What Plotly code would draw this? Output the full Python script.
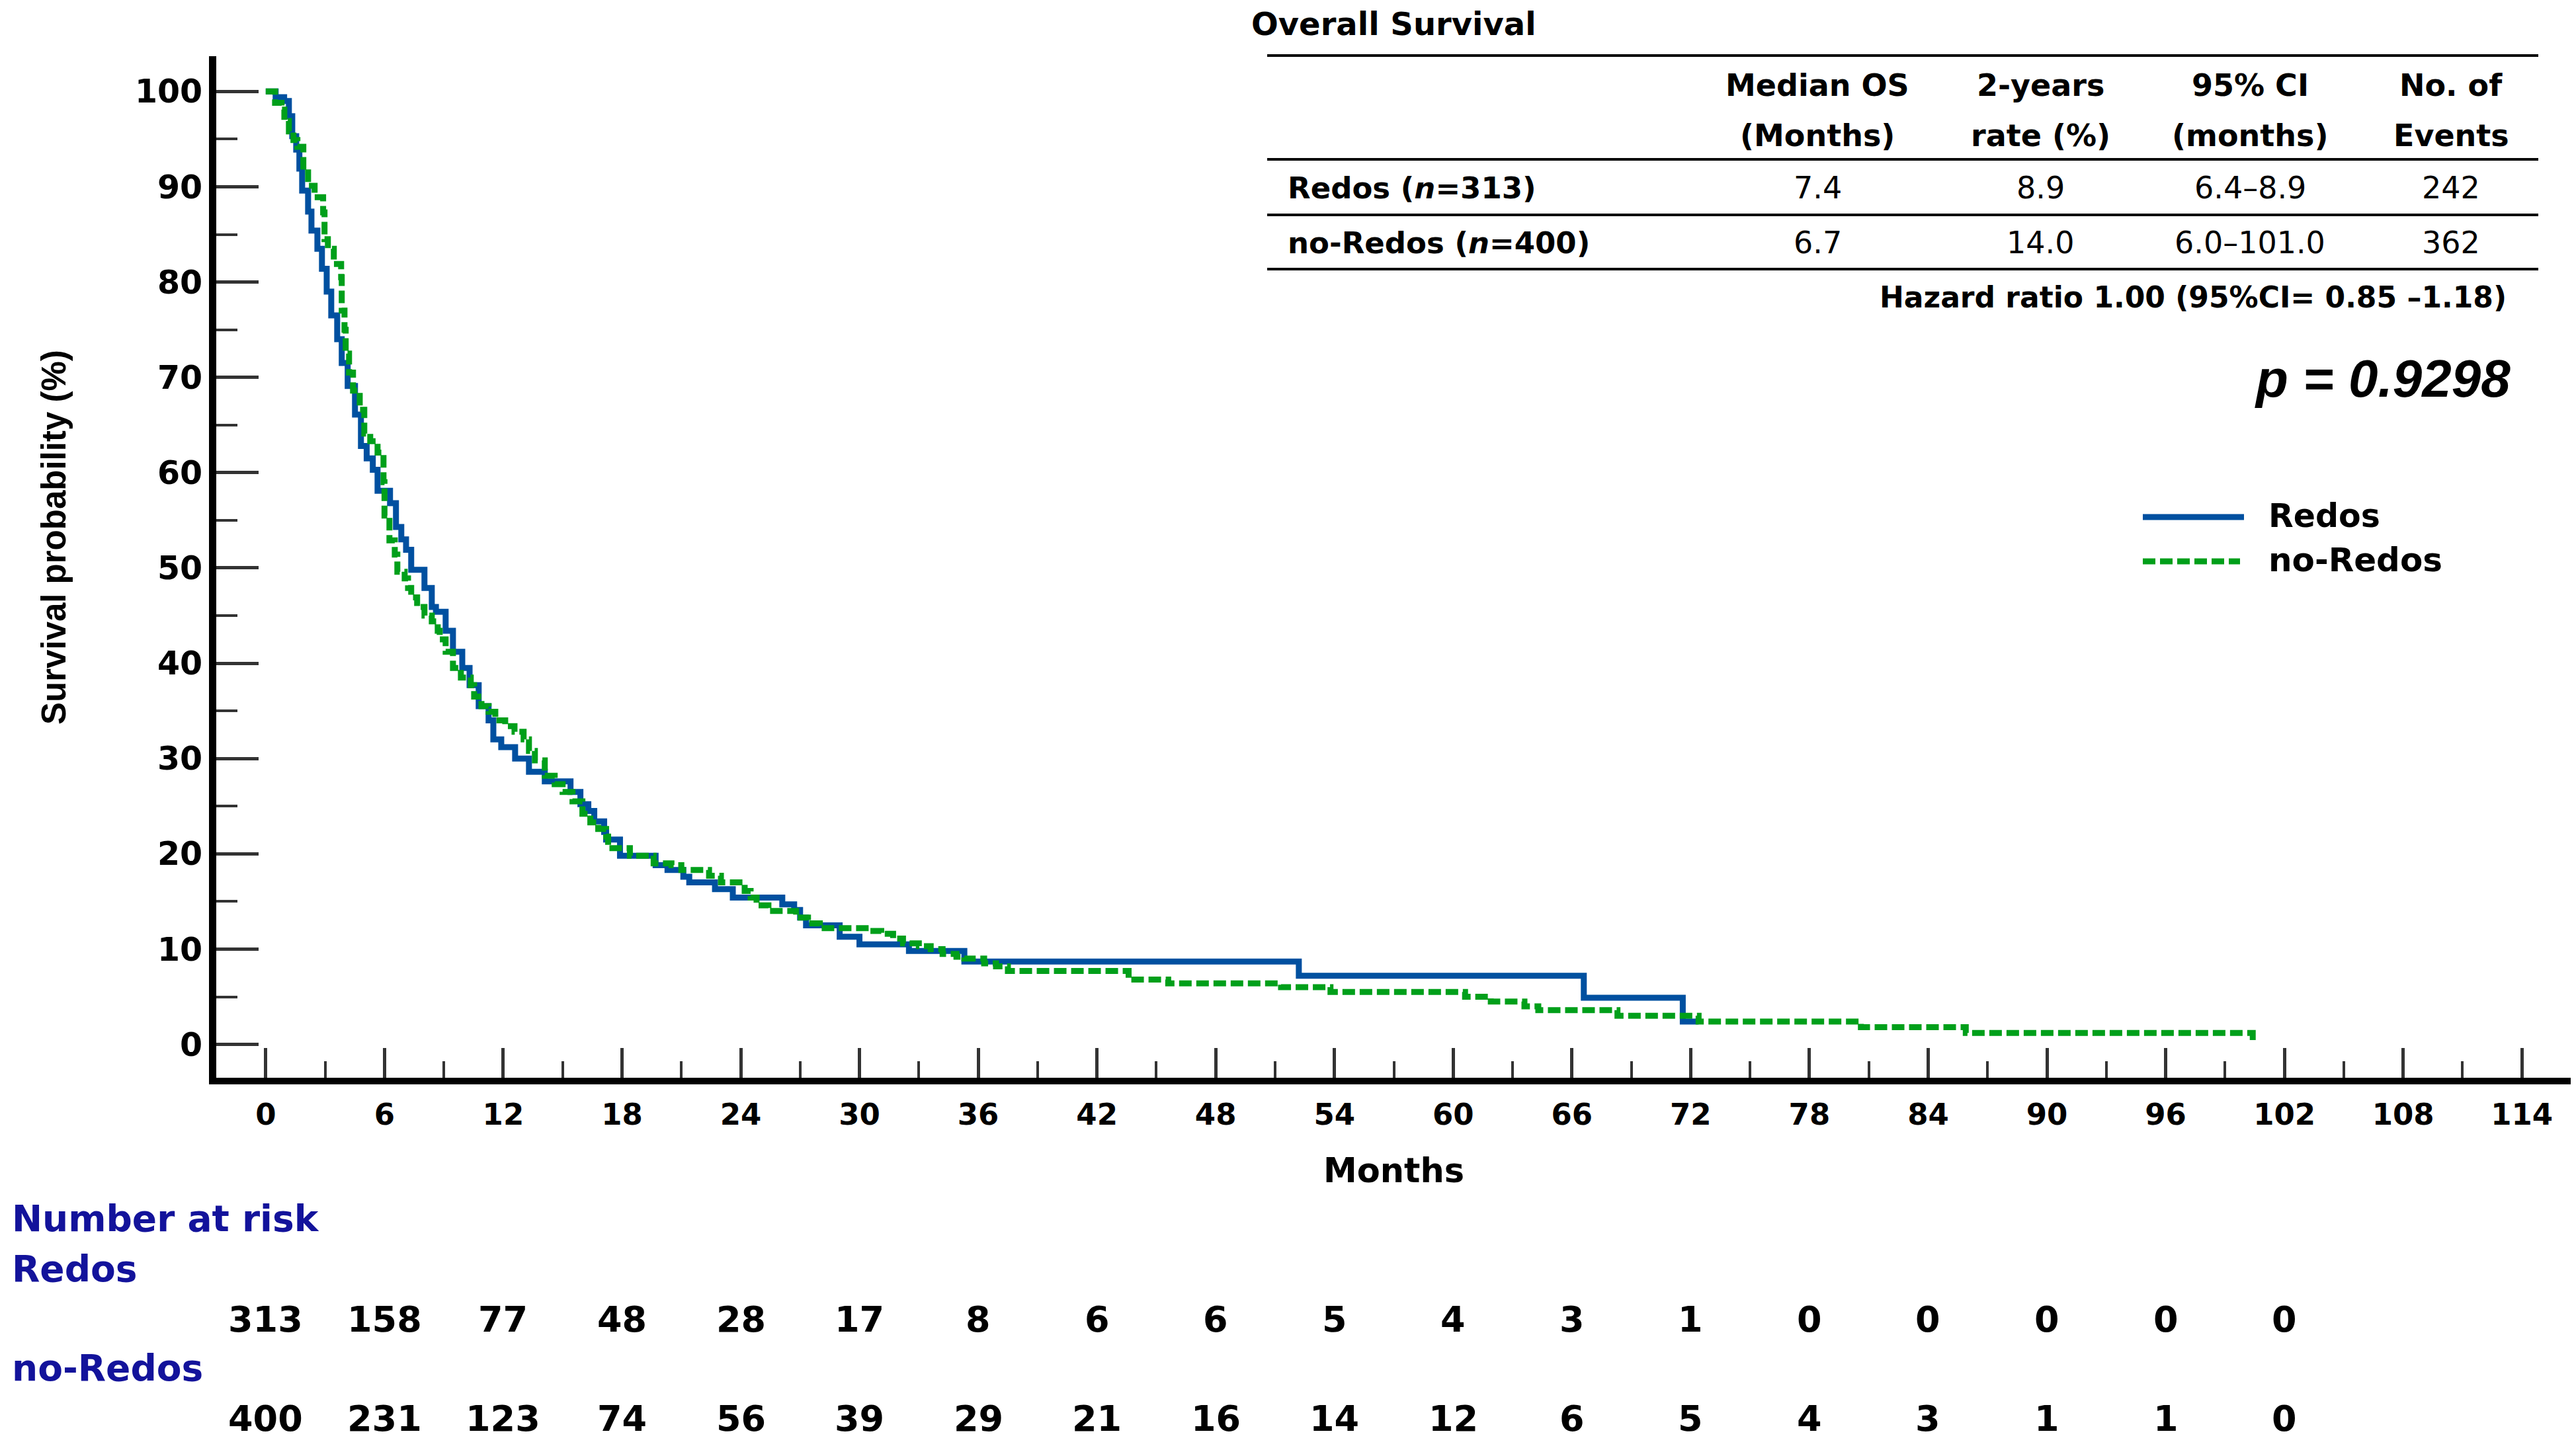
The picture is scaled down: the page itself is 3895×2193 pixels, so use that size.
import plotly.graph_objects as go

# ---------------- data ----------------
redos_t = [0, 0.5, 0.93, 1.17, 1.34, 1.54, 1.70, 1.84, 2.14, 2.31, 2.61, 2.84, 3.08, 3.31, 3.61,
           3.84, 4.14, 4.51, 4.81, 5.1, 5.41, 5.65, 6.28, 6.58, 6.85, 7.09, 7.35, 8.02, 8.39, 8.6,
           9.09, 9.46, 9.93, 10.3, 10.76, 11.26, 11.5, 11.9, 12.6, 13.3, 14.1, 15.4, 15.9, 16.3,
           16.6, 17.1, 17.2, 17.9, 19.7, 20.3, 21.1, 21.4, 22.7, 23.6, 26.1, 26.7, 27.0, 27.3,
           29.0, 30.0, 32.5, 35.3, 52.2, 66.6, 71.6, 72.4]
redos_s = [100, 99.4, 99.0, 97.4, 95.3, 93.9, 91.9, 89.6, 87.4, 85.4, 83.5, 81.4, 79.0, 76.5, 74.0,
           71.5, 69.1, 66.1, 62.8, 61.5, 60.3, 58.1, 56.8, 54.3, 53.0, 51.9, 49.8, 47.9, 45.9, 45.4,
           43.4, 41.2, 39.5, 37.7, 35.5, 34.0, 32.0, 31.2, 30.0, 28.6, 27.6, 26.5, 25.2, 24.5,
           23.4, 22.3, 21.5, 19.8, 18.8, 18.3, 17.6, 17.0, 16.3, 15.4, 14.7, 14.1, 13.3, 12.5,
           11.3, 10.5, 9.8, 8.7, 7.2, 4.9, 2.4, 2.4]

noredos_t = [0, 0.47, 0.8, 0.94, 1.17, 1.4, 1.6, 1.9, 2.14, 2.47, 2.9, 2.97, 3.14, 3.44, 3.81,
             3.84, 3.98, 4.04, 4.21, 4.41, 4.75, 4.98, 5.28, 5.65, 5.95, 6.0, 6.25, 6.52, 6.65,
             7.02, 7.19, 7.35, 7.65, 8.02, 8.39, 8.69, 8.79, 9.09, 9.46, 9.86, 10.36, 10.53, 10.9,
             11.26, 11.6, 12.1, 12.57, 13.03, 13.3, 13.6, 14.1, 14.6, 15.0, 15.5, 16.0, 16.4, 16.8,
             17.2, 17.3, 18.4, 19.6, 20.5, 21.0, 22.4, 23.0, 24.2, 24.5, 24.8, 25.4, 26.8, 27.4,
             28.0, 30.5, 31.1, 31.7, 32.2, 33.0, 33.6, 34.2, 34.9, 35.3, 36.3, 36.9, 37.5, 43.6,
             45.6, 51.3, 53.8, 60.6, 61.9, 63.6, 64.3, 68.3, 72.4, 80.6, 85.9, 100.4]
noredos_s = [100, 98.8, 98.1, 96.9, 95.8, 94.9, 94.2, 91.5, 90.1, 88.9, 87.3, 84.5, 83.5, 81.9, 80.5,
             77.0, 75.0, 72.5, 70.5, 68.6, 66.6, 64.1, 63.3, 62.1, 59.0, 55.5, 52.9, 51.4, 49.6,
             48.9, 47.9, 46.9, 45.9, 45.0, 44.4, 43.4, 42.5, 41.2, 39.5, 38.5, 37.7, 36.5, 35.5,
             34.9, 34.0, 33.4, 32.8, 32.0, 30.8, 29.8, 28.2, 27.3, 26.5, 25.5, 24.2, 23.3, 22.6,
             21.8, 20.6, 19.8, 19.0, 18.8, 18.3, 17.7, 17.0, 16.1, 15.4, 14.6, 14.0, 13.3, 12.7,
             12.2, 11.9, 11.6, 11.1, 10.6, 10.3, 10.0, 9.5, 9.2, 9.0, 8.5, 8.2, 7.7, 6.8,
             6.4, 6.0, 5.5, 5.0, 4.5, 4.0, 3.6, 3.0, 2.4, 1.8, 1.2, 0.3]

x_ticks = list(range(0, 115, 6))
y_ticks = list(range(0, 101, 10))

risk_months = list(range(0, 103, 6))
risk_redos = [313, 158, 77, 48, 28, 17, 8, 6, 6, 5, 4, 3, 1, 0, 0, 0, 0, 0]
risk_noredos = [400, 231, 123, 74, 56, 39, 29, 21, 16, 14, 12, 6, 5, 4, 3, 1, 1, 0]

table_head1 = ["Median OS", "2-years", "95% CI", "No. of"]
table_head2 = ["(Months)", "rate (%)", "(months)", "Events"]
table_rows = ["Redos (<i>n</i>=313)", "no-Redos (<i>n</i>=400)"]
table_vals = [["7.4", "8.9", "6.4–8.9", "242"],
              ["6.7", "14.0", "6.0–101.0", "362"]]

# ---------------- geometry helpers ----------------
W, H = 3895, 2193
L, R, T, B = 327, 3888, 85, 1630
OFF = 8  # default page body margin


def px(x):
    return (x - L) / (R - L)


def py(y):
    return (B - y) / (B - T)


BLUE = "#0050A0"
GREEN = "#009F1A"
NAVY = "#13139B"
FONT = "DejaVu Sans"

fig = go.Figure()
fig.add_trace(go.Scatter(x=redos_t, y=redos_s, mode="lines", line_shape="hv",
                         line=dict(color=BLUE, width=9), name="Redos", showlegend=False))
fig.add_trace(go.Scatter(x=noredos_t, y=noredos_s, mode="lines", line_shape="hv",
                         line=dict(color=GREEN, width=9, dash="19px,7px"), name="no-Redos",
                         showlegend=False))

ann = []
shapes = []


def text(t, x, y, size, anchor="center", color="black", family=FONT, **kw):
    ann.append(dict(text=t, x=px(x), y=py(y), xref="paper", yref="paper", showarrow=False,
                    xanchor=anchor, yanchor="middle",
                    font=dict(family=family, size=size, color=color), **kw))


# axis titles
text("<b>Survival probability (%)</b>", 82, 812, 51, family="Liberation Sans", textangle=-90)
text("<b>Months</b>", 2107, 1770, 51)

# number at risk
text("<b>Number at risk</b>", 16, 1843, 55, anchor="left", color=NAVY)
text("<b>Redos</b>", 16, 1919, 55, anchor="left", color=NAVY)
text("<b>no-Redos</b>", 16, 2069, 55, anchor="left", color=NAVY)
for m, a, b in zip(risk_months, risk_redos, risk_noredos):
    ann.append(dict(text=f"<b>{a}</b>", x=m, y=py(1995), xref="x", yref="paper", showarrow=False,
                    xanchor="center", yanchor="middle", font=dict(family=FONT, size=54, color="black")))
    ann.append(dict(text=f"<b>{b}</b>", x=m, y=py(2145), xref="x", yref="paper", showarrow=False,
                    xanchor="center", yanchor="middle", font=dict(family=FONT, size=54, color="black")))

# summary table
text("<b>Overall Survival</b>", 1890, 36, 48, anchor="left")
for yy in [84, 241, 325, 407]:
    shapes.append(dict(type="line", xref="paper", yref="paper", x0=px(1916), x1=px(3838),
                       y0=py(yy), y1=py(yy), line=dict(color="black", width=4)))
col_x = [2748, 3085, 3402, 3706]
for cx, h1, h2 in zip(col_x, table_head1, table_head2):
    text(f"<b>{h1}</b>", cx, 129, 46)
    text(f"<b>{h2}</b>", cx, 205, 46)
for ry, lab, vals in zip([284, 367], table_rows, table_vals):
    text(f"<b>{lab}</b>", 1945, ry, 45, anchor="left")
    for cx, v in zip(col_x, vals):
        text(v, cx, ry, 46)
text("<b>Hazard ratio 1.00 (95%CI= 0.85 –1.18)</b>", 3792, 450, 44, anchor="right")
text("<b><i>p = 0.9298</i></b>", 3798, 572, 80, anchor="right", family="Liberation Sans")

# legend (drawn)
shapes.append(dict(type="line", xref="paper", yref="paper", x0=px(3240), x1=px(3393),
                   y0=py(782), y1=py(782), line=dict(color=BLUE, width=9)))
shapes.append(dict(type="line", xref="paper", yref="paper", x0=px(3240), x1=px(3387),
                   y0=py(849), y1=py(849), line=dict(color=GREEN, width=9, dash="19px,7px")))
text("<b>Redos</b>", 3428, 780, 49, anchor="left")
text("<b>no-Redos</b>", 3428, 847, 50, anchor="left")

fig.update_layout(
    width=W, height=H,
    margin=dict(l=L - OFF, r=W - R + OFF, t=T - OFF, b=H - B + OFF, pad=0),
    paper_bgcolor="white", plot_bgcolor="white",
    showlegend=False,
    annotations=ann, shapes=shapes,
    xaxis=dict(range=[-2.5, 116.5], tickvals=x_ticks, ticks="inside", ticklen=45, tickwidth=5,
               tickcolor="#333333", showline=True, linecolor="black", linewidth=10,
               showgrid=False, zeroline=False, ticklabelstandoff=7,
               tickfont=dict(family=FONT, size=45, color="black", weight="bold"),
               minor=dict(dtick=3, tick0=0, ticks="inside", ticklen=25, tickwidth=4,
                          tickcolor="#333333", showgrid=False)),
    yaxis=dict(range=[-3.5, 103.7], tickvals=y_ticks, ticks="inside", ticklen=64, tickwidth=5,
               tickcolor="#333333", showline=True, linecolor="black", linewidth=11,
               showgrid=False, zeroline=False, ticklabelstandoff=0,
               tickfont=dict(family=FONT, size=49, color="black", weight="bold"),
               minor=dict(dtick=5, tick0=0, ticks="inside", ticklen=32, tickwidth=4,
                          tickcolor="#333333", showgrid=False)),
)

fig.write_html("out.html")
